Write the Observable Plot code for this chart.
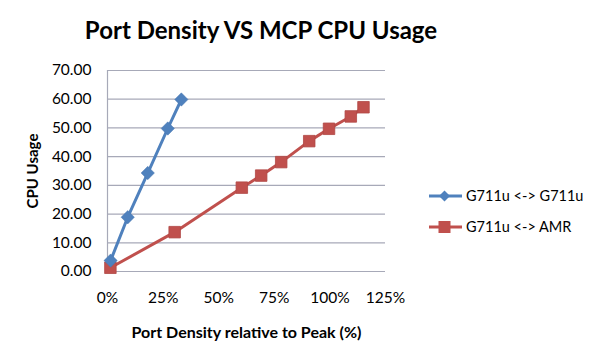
<!DOCTYPE html>
<html><head><meta charset="utf-8">
<script src="https://cdn.jsdelivr.net/npm/d3@7"></script>
<script src="https://cdn.jsdelivr.net/npm/@observablehq/plot@0.6"></script>
<style>
body{margin:0;background:#fff;font-family:Lato,"Open Sans",sans-serif;}
#wrap{position:relative;width:600px;height:358px;}
.t{position:absolute;font-weight:bold;color:#000;white-space:nowrap;}
#legend{position:absolute;left:428px;top:180px;font-size:14.5px;}
.li{display:flex;align-items:center;height:31px;}
</style></head>
<body><div id="wrap"></div>
<script>
const seriesNames = ["G711u <-> G711u", "G711u <-> AMR"];
const g711x = [1.4, 9.1, 18.1, 27.1, 33.2];
const g711y = [3.8, 18.9, 34.3, 49.8, 59.9];
const amrX = [1.3, 30.2, 60.4, 69.1, 78.1, 90.7, 99.6, 109.4, 115.1];
const amrY = [1.3, 13.7, 29.2, 33.4, 38.1, 45.4, 49.7, 54.0, 57.2];
const yTicks = [0, 10, 20, 30, 40, 50, 60, 70];
const xTicks = [0, 25, 50, 75, 100, 125];
const colors = ["#4F81BD", "#C0504D"];

const blue = g711x.map((x, i) => ({x, y: g711y[i]}));
const red = amrX.map((x, i) => ({x, y: amrY[i]}));

const plot = Plot.plot({
  width: 600, height: 358,
  marginLeft: 107, marginRight: 215, marginTop: 70, marginBottom: 87,
  style: {fontFamily: "Lato, 'Open Sans', sans-serif", fontSize: "15.5px", color: "#000", background: "#fff"},
  x: {domain: [0, 125], ticks: xTicks, tickFormat: d => d + "%", label: null},
  y: {domain: [0, 70], ticks: yTicks, tickFormat: d3.format(".2f"), label: null},
  marks: [
    Plot.ruleY(yTicks, {stroke: "#a7a9b8", strokeWidth: 1.2}),
    Plot.ruleX([0], {stroke: "#a7a9b8", strokeWidth: 1.2}),
    Plot.axisY({ticks: yTicks, tickSize: 0, tickPadding: 16, tickFormat: d3.format(".2f"), fontSize: 15.5, label: null}),
    Plot.axisX({ticks: xTicks, tickSize: 0, tickPadding: 20, tickFormat: d => d + "%", fontSize: 15.5, label: null}),
    Plot.line(red, {x: "x", y: "y", stroke: colors[1], strokeWidth: 3}),
    Plot.dot(red, {x: "x", y: "y", symbol: "square", r: 6.5, fill: colors[1], stroke: "#b04845", strokeWidth: 0.8}),
    Plot.line(blue, {x: "x", y: "y", stroke: colors[0], strokeWidth: 3}),
    Plot.dot(blue, {x: "x", y: "y", symbol: "diamond2", r: 6, fill: colors[0], stroke: "#4a78b0", strokeWidth: 0.5})
  ]
});
const wrap = document.getElementById("wrap");
wrap.appendChild(plot);

function addText(txt, css) {
  const d = document.createElement("div");
  d.className = "t"; d.textContent = txt;
  Object.assign(d.style, css);
  wrap.appendChild(d);
  return d;
}
addText("Port Density VS MCP CPU Usage", {left: "0px", width: "522px", textAlign: "center", top: "15px", fontSize: "24px"});
addText("Port Density relative to Peak (%)", {left: "0px", width: "493px", textAlign: "center", top: "322px", fontSize: "16px"});
addText("CPU Usage", {left: "32px", top: "171px", fontSize: "15px", transform: "translate(-50%,-50%) rotate(-90deg)"});

const legend = document.createElement("div");
legend.id = "legend";
seriesNames.forEach((name, i) => {
  const row = document.createElement("div");
  row.className = "li";
  const sym = i === 0
    ? `<path d="M16.5 1.5 L22 7 L16.5 12.5 L11 7 Z" fill="${colors[0]}"/>`
    : `<rect x="10.5" y="1" width="12" height="12" fill="${colors[1]}"/>`;
  row.innerHTML = `<svg width="36" height="14"><line x1="1" x2="34" y1="7" y2="7" stroke="${colors[i]}" stroke-width="3"/>${sym}</svg><span style="margin-left:2px">${name.replace(/</g,"&lt;").replace(/>/g,"&gt;")}</span>`;
  legend.appendChild(row);
});
wrap.appendChild(legend);
</script></body></html>
